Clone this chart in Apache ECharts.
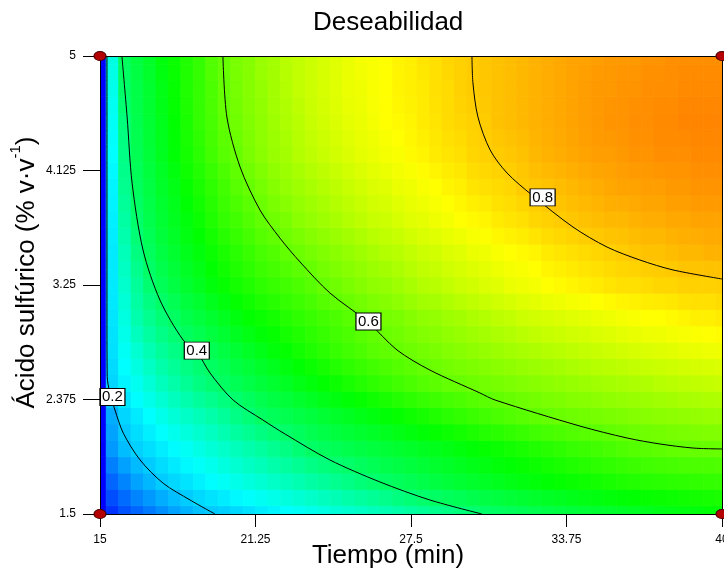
<!DOCTYPE html>
<html>
<head>
<meta charset="utf-8">
<script src="https://cdn.jsdelivr.net/npm/echarts@6/dist/echarts.min.js"></script>
<style>
html,body{margin:0;padding:0;background:#fff;}
#chart{width:724px;height:572px;}
</style>
</head>
<body>
<div id="chart"></div>
<script>
// ---- Data ----
const tiempo = [15,15.5,16,16.5,17,17.5,18,18.5,19,19.5,20,20.5,21,21.5,22,22.5,23,23.5,24,24.5,25,25.5,26,26.5,27,27.5,28,28.5,29,29.5,30,30.5,31,31.5,32,32.5,33,33.5,34,34.5,35,35.5,36,36.5,37,37.5,38,38.5,39,39.5,40];
const acido = [1.5,1.625,1.75,1.875,2,2.125,2.25,2.375,2.5,2.625,2.75,2.875,3,3.125,3.25,3.375,3.5,3.625,3.75,3.875,4,4.125,4.25,4.375,4.5,4.625,4.75,4.875,5];

// desirability, one row per acido value (bottom to top), one column per tiempo value
const d150 = [0,.05,.08,.10,.12,.14,.16,.175,.19,.198,.204,.213,.222,.231,.24,.25,.259,.268,.277,.287,.296,.305,.315,.324,.333,.342,.352,.361,.37,.38,.389,.40,.406,.412,.418,.424,.43,.436,.442,.447,.452,.457,.462,.467,.472,.477,.481,.486,.49,.495,.50];
const d162 = [0,.075,.105,.13,.15,.17,.186,.20,.213,.223,.232,.243,.253,.263,.273,.283,.293,.303,.313,.324,.334,.344,.354,.364,.376,.386,.396,.404,.411,.418,.425,.433,.439,.446,.452,.458,.464,.47,.476,.481,.486,.491,.496,.50,.505,.509,.512,.516,.519,.522,.525];
const d175 = [0,.10,.13,.16,.18,.20,.212,.224,.236,.248,.26,.272,.283,.294,.305,.316,.327,.338,.349,.36,.371,.382,.393,.404,.412,.42,.428,.436,.444,.451,.458,.465,.472,.479,.485,.491,.497,.503,.509,.514,.519,.524,.529,.533,.537,.54,.543,.545,.547,.549,.55];
const d187 = [0,.125,.158,.183,.20,.217,.23,.243,.256,.269,.282,.295,.307,.32,.332,.345,.357,.37,.379,.389,.398,.408,.417,.426,.433,.441,.448,.456,.463,.47,.477,.484,.491,.498,.505,.511,.518,.524,.531,.536,.542,.547,.553,.558,.562,.566,.569,.572,.574,.575,.576];
const d200 = [0,.15,.185,.205,.219,.233,.247,.261,.275,.289,.303,.317,.331,.345,.359,.373,.387,.401,.409,.417,.425,.433,.44,.447,.454,.461,.468,.475,.482,.489,.496,.503,.51,.517,.524,.531,.538,.545,.552,.558,.564,.57,.576,.582,.587,.591,.595,.598,.60,.601,.602];
const d212 = [0,.16,.198,.218,.235,.252,.269,.283,.298,.312,.327,.344,.358,.375,.387,.398,.41,.421,.43,.438,.447,.455,.463,.471,.479,.487,.495,.503,.511,.519,.526,.534,.541,.548,.555,.562,.569,.575,.58,.585,.59,.595,.60,.605,.61,.614,.617,.62,.623,.625,.626];
const d225 = [0,.17,.21,.23,.25,.27,.29,.305,.32,.335,.35,.37,.385,.405,.414,.423,.432,.441,.45,.459,.468,.477,.486,.495,.504,.513,.522,.531,.54,.548,.556,.564,.572,.579,.586,.593,.60,.604,.608,.612,.616,.62,.624,.628,.632,.636,.639,.642,.645,.648,.65];
const d237 = [0,.19,.225,.248,.27,.293,.313,.33,.348,.363,.378,.394,.408,.424,.435,.445,.456,.466,.476,.486,.496,.506,.515,.525,.534,.543,.552,.561,.569,.575,.582,.588,.595,.601,.607,.613,.619,.623,.628,.632,.637,.641,.645,.649,.653,.657,.66,.664,.667,.67,.673];
const d250 = [0,.21,.24,.265,.29,.315,.335,.355,.375,.39,.405,.418,.43,.443,.455,.467,.479,.49,.501,.512,.523,.534,.544,.554,.564,.573,.582,.59,.598,.602,.607,.612,.617,.622,.627,.632,.637,.642,.647,.652,.657,.661,.665,.669,.673,.677,.681,.685,.688,.692,.695];
const d262 = [0,.215,.25,.28,.308,.333,.353,.373,.39,.405,.42,.434,.447,.461,.473,.486,.498,.51,.521,.533,.544,.555,.565,.574,.582,.59,.598,.605,.613,.618,.624,.629,.635,.64,.646,.651,.656,.661,.667,.672,.677,.681,.685,.69,.694,.698,.702,.706,.709,.712,.715];
const d275 = [0,.22,.26,.295,.325,.35,.37,.39,.405,.42,.435,.45,.464,.478,.491,.504,.517,.529,.541,.553,.564,.575,.585,.593,.60,.607,.614,.62,.627,.633,.64,.646,.652,.658,.664,.67,.675,.68,.686,.691,.696,.70,.705,.71,.714,.718,.722,.726,.729,.732,.735];
const d287 = [0,.223,.27,.313,.343,.368,.388,.408,.423,.438,.453,.468,.482,.494,.506,.52,.531,.542,.553,.564,.575,.585,.595,.604,.61,.619,.627,.633,.641,.647,.655,.661,.669,.674,.682,.688,.693,.698,.703,.708,.713,.718,.723,.728,.732,.734,.739,.743,.747,.749,.753];
const d300 = [0,.225,.28,.33,.36,.385,.405,.425,.44,.455,.47,.485,.50,.51,.52,.535,.545,.555,.565,.575,.585,.595,.605,.615,.62,.63,.64,.645,.655,.66,.67,.675,.685,.69,.70,.705,.71,.715,.72,.725,.73,.735,.74,.745,.75,.75,.755,.76,.765,.765,.77];
const d312 = [0,.228,.29,.34,.375,.40,.42,.44,.455,.473,.488,.503,.515,.528,.538,.55,.56,.57,.583,.593,.603,.613,.623,.63,.638,.648,.658,.663,.673,.68,.688,.695,.703,.71,.718,.723,.73,.735,.74,.745,.75,.755,.76,.763,.768,.77,.773,.778,.78,.78,.784];
const d325 = [0,.23,.30,.35,.39,.415,.435,.455,.47,.49,.505,.52,.53,.545,.555,.565,.575,.585,.60,.61,.62,.63,.64,.645,.655,.665,.675,.68,.69,.70,.705,.715,.72,.73,.735,.74,.75,.755,.76,.765,.77,.775,.78,.78,.785,.79,.79,.795,.795,.795,.797];
const d337 = [0,.23,.31,.363,.40,.425,.445,.465,.48,.50,.515,.53,.543,.558,.568,.58,.59,.60,.613,.623,.633,.643,.653,.66,.668,.678,.688,.693,.703,.71,.718,.725,.733,.74,.745,.75,.76,.765,.77,.775,.78,.785,.79,.793,.798,.80,.803,.808,.808,.81,.811];
const d350 = [0,.23,.32,.375,.41,.435,.455,.475,.49,.51,.525,.54,.555,.57,.58,.595,.605,.615,.625,.635,.645,.655,.665,.675,.68,.69,.70,.705,.715,.72,.73,.735,.745,.75,.755,.76,.77,.775,.78,.785,.79,.795,.80,.805,.81,.81,.815,.82,.82,.825,.825];
const d362 = [0,.233,.33,.385,.418,.443,.463,.483,.50,.52,.538,.553,.568,.583,.595,.608,.62,.63,.64,.65,.66,.67,.68,.688,.695,.705,.713,.72,.728,.735,.743,.748,.758,.763,.768,.775,.783,.788,.793,.798,.803,.808,.81,.815,.82,.82,.825,.828,.83,.833,.833];
const d375 = [0,.235,.34,.395,.425,.45,.47,.49,.51,.53,.55,.565,.58,.595,.61,.62,.635,.645,.655,.665,.675,.685,.695,.70,.71,.72,.725,.735,.74,.75,.755,.76,.77,.775,.78,.79,.795,.80,.805,.81,.815,.82,.82,.825,.83,.83,.835,.835,.84,.84,.84];
const d387 = [0,.238,.35,.403,.43,.455,.475,.498,.518,.538,.558,.575,.59,.605,.62,.633,.645,.655,.665,.675,.685,.695,.705,.71,.72,.728,.735,.743,.75,.758,.765,.77,.778,.783,.79,.798,.803,.808,.813,.818,.823,.828,.83,.833,.838,.838,.843,.843,.848,.848,.848];
const d400 = [0,.24,.36,.41,.435,.46,.48,.505,.525,.545,.565,.585,.60,.615,.63,.645,.655,.665,.675,.685,.695,.705,.715,.72,.73,.735,.745,.75,.76,.765,.775,.78,.785,.79,.80,.805,.81,.815,.82,.825,.83,.835,.84,.84,.845,.845,.85,.85,.855,.855,.855];
const d412 = [0,.245,.365,.415,.44,.465,.488,.513,.533,.555,.575,.593,.61,.625,.64,.653,.665,.675,.685,.695,.705,.715,.723,.73,.738,.745,.753,.76,.768,.773,.783,.788,.793,.798,.805,.813,.818,.823,.828,.833,.838,.84,.845,.848,.85,.853,.855,.855,.86,.86,.86];
const d425 = [0,.25,.37,.42,.445,.47,.495,.52,.54,.565,.585,.60,.62,.635,.65,.66,.675,.685,.695,.705,.715,.725,.73,.74,.745,.755,.76,.77,.775,.78,.79,.795,.80,.805,.81,.82,.825,.83,.835,.84,.845,.845,.85,.855,.855,.86,.86,.86,.865,.865,.865];
const d437 = [0,.255,.375,.423,.448,.473,.498,.523,.545,.568,.59,.605,.623,.638,.653,.665,.678,.69,.70,.71,.72,.728,.735,.745,.75,.758,.765,.773,.78,.785,.793,.798,.805,.81,.815,.823,.828,.833,.838,.843,.848,.85,.853,.858,.858,.863,.863,.865,.868,.868,.868];
const d450 = [0,.26,.38,.425,.45,.475,.50,.525,.55,.57,.595,.61,.625,.64,.655,.67,.68,.695,.705,.715,.725,.73,.74,.75,.755,.76,.77,.775,.785,.79,.795,.80,.81,.815,.82,.825,.83,.835,.84,.845,.85,.855,.855,.86,.86,.865,.865,.87,.87,.87,.87];
const d462 = [0,.265,.39,.428,.453,.478,.503,.528,.55,.573,.598,.613,.628,.643,.658,.673,.685,.698,.708,.718,.728,.733,.743,.75,.758,.763,.77,.778,.785,.793,.798,.803,.81,.815,.82,.825,.83,.835,.84,.845,.85,.853,.855,.858,.86,.863,.863,.868,.868,.868,.868];
const d475 = [0,.27,.40,.43,.455,.48,.505,.53,.55,.575,.60,.615,.63,.645,.66,.675,.69,.70,.71,.72,.73,.735,.745,.75,.76,.765,.77,.78,.785,.795,.80,.805,.81,.815,.82,.825,.83,.835,.84,.845,.85,.85,.855,.855,.86,.86,.86,.865,.865,.865,.865];
const d487 = [0,.275,.405,.435,.458,.485,.508,.53,.55,.578,.60,.618,.63,.648,.66,.678,.69,.70,.71,.72,.73,.738,.745,.75,.76,.765,.773,.78,.788,.795,.80,.805,.81,.815,.82,.825,.83,.835,.84,.843,.848,.85,.853,.853,.858,.858,.86,.863,.863,.863,.863];
const d500 = [0,.28,.41,.44,.46,.49,.51,.53,.55,.58,.60,.62,.63,.65,.66,.68,.69,.70,.71,.72,.73,.74,.745,.75,.76,.765,.775,.78,.79,.795,.80,.805,.81,.815,.82,.825,.83,.835,.84,.84,.845,.85,.85,.85,.855,.855,.86,.86,.86,.86,.86];
const deseabilidad = [d150,d162,d175,d187,d200,d212,d225,d237,d250,d262,d275,d287,d300,d312,d325,d337,d350,d362,d375,d387,d400,d412,d425,d437,d450,d462,d475,d487,d500];

// contour lines [tiempo, acido]
const contour02 = [[15.28,5],[15.28,4],[15.28,3],[15.29,2.55],[15.40,2.425],[15.60,2.295],[15.94,2.117],[16.61,1.913],[17.54,1.735],[18.62,1.607],[19.62,1.5]];
const contour04 = [[15.88,5],[16.09,4.534],[16.29,4.029],[16.73,3.517],[17.41,3.135],[18.34,2.83],[18.90,2.738],[19.42,2.578],[20.35,2.371],[21.55,2.218],[22.44,2.111],[24.24,1.913],[26.25,1.745],[28.26,1.607],[30.35,1.5]];
const contour06 = [[19.94,5],[20.10,4.534],[20.63,4.152],[21.43,3.823],[22.23,3.609],[23.04,3.426],[24.24,3.189],[25.77,2.967],[26.94,2.753],[28.26,2.60],[30.27,2.425],[30.88,2.371],[34.29,2.172],[36.18,2.081],[37.51,2.035],[38.84,2.004],[40,1.997]];
const contour08 = [[29.95,5],[29.99,4.794],[30.19,4.534],[30.68,4.282],[31.36,4.106],[32.36,3.938],[34.01,3.693],[35.38,3.54],[36.70,3.441],[38.03,3.365],[40,3.296]];

const labelText = ['0.2','0.4','0.6','0.8'];
const labelT = [15.50,18.89,25.79,32.79];
const labelA = [2.394,2.749,2.971,3.919];

const designT = [15,40,15,40];
const designA = [1.5,1.5,5,5];

const xTicks = [15,21.25,27.5,33.75,40];
const yTicks = [1.5,2.375,3.25,4.125,5];

// ---- build cells ----
function edges(c, lo, hi){
  const e = [];
  for (let i = 0; i < c.length; i++){
    e.push([i === 0 ? lo : (c[i-1]+c[i])/2, i === c.length-1 ? hi : (c[i]+c[i+1])/2]);
  }
  return e;
}
const xe = edges(tiempo, 15, 40);
const ye = edges(acido, 1.5, 5);
const cells = [];
for (let j = 0; j < acido.length; j++){
  for (let i = 0; i < tiempo.length; i++){
    cells.push([xe[i][0], xe[i][1], ye[j][0], ye[j][1], deseabilidad[j][i]]);
  }
}

const FONT = "'Liberation Sans', Arial, sans-serif";
const chart = echarts.init(document.getElementById('chart'), null, {renderer:'canvas'});

function contourSeries(data){
  return {type:'line', data:data, smooth:0.3, showSymbol:false, symbol:'none', clip:true,
    lineStyle:{color:'#000', width:1}, z:5, silent:true};
}

chart.setOption({
  animation:false,
  backgroundColor:'#fff',
  title:{text:'Deseabilidad', left:308, top:5,
    textStyle:{fontSize:26, fontWeight:'normal', color:'#000', fontFamily:FONT}},
  grid:{left:100, right:2, top:56, bottom:58, containLabel:false, outerBoundsMode:'none'},
  visualMap:{type:'continuous', show:false, min:0, max:1, dimension:4, seriesIndex:0,
    inRange:{color:['#0000ff','#00ffff','#00ff00','#ffff00','#ff0000']}},
  xAxis:[{
    type:'value', min:15, max:40, z:10,
    name:'Tiempo (min)', nameLocation:'middle', nameGap:29, nameMoveOverlap:false,
    nameTextStyle:{fontSize:26, color:'#000', fontFamily:FONT, padding:[0,46,0,0]},
    axisLine:{show:true, onZero:false, lineStyle:{color:'#000', width:1}},
    axisTick:{show:true, length:13, customValues:xTicks, lineStyle:{color:'#000'}},
    axisLabel:{show:true, customValues:xTicks, margin:20, color:'#000', fontSize:12, fontFamily:FONT},
    splitLine:{show:false}
  },{
    type:'value', min:15, max:40, position:'top', z:10,
    axisLine:{show:true, onZero:false, lineStyle:{color:'#000', width:1}},
    axisTick:{show:false}, axisLabel:{show:false}, splitLine:{show:false}
  }],
  yAxis:[{
    type:'value', min:1.5, max:5, z:10,
    name:'{a|Ácido sulfúrico (% v·v}{s|-1}{a|)}', nameLocation:'middle', nameGap:60, nameMoveOverlap:false,
    nameTextStyle:{fontSize:26, color:'#000', fontFamily:FONT, padding:[0,0,0,25],
      rich:{
        a:{fontSize:26, color:'#000', fontFamily:FONT, padding:[6,0,0,0], verticalAlign:'bottom'},
        s:{fontSize:15, color:'#000', fontFamily:FONT, verticalAlign:'top'}
      }},
    axisLine:{show:true, onZero:false, lineStyle:{color:'#000', width:1}},
    axisTick:{show:true, length:17, customValues:yTicks, lineStyle:{color:'#000'}},
    axisLabel:{show:true, customValues:yTicks, margin:24, color:'#000', fontSize:12, fontFamily:FONT},
    splitLine:{show:false}
  },{
    type:'value', min:1.5, max:5, position:'right', z:10,
    axisLine:{show:true, onZero:false, lineStyle:{color:'#000', width:1}},
    axisTick:{show:false}, axisLabel:{show:false}, splitLine:{show:false}
  }],
  series:[
    {
      type:'custom', data:cells, clip:true, silent:true, z:1,
      encode:{x:[0,1], y:[2,3]},
      renderItem:function(params, api){
        const p0 = api.coord([api.value(0), api.value(3)]);
        const p1 = api.coord([api.value(1), api.value(2)]);
        const c = api.visual('color');
        return {type:'rect',
          shape:{x:p0[0], y:p0[1], width:p1[0]-p0[0], height:p1[1]-p0[1]},
          style:{fill:c, stroke:c, lineWidth:0.8}};
      }
    },
    contourSeries(contour02),
    contourSeries(contour04),
    contourSeries(contour06),
    contourSeries(contour08),
    {
      type:'scatter', z:8, silent:true, clip:false,
      symbol:'rect', symbolSize:[25,17],
      itemStyle:{color:'#fff', borderColor:'#000', borderWidth:1, opacity:1},
      label:{show:true, position:'inside', color:'#000', fontSize:15, fontFamily:FONT,
        formatter:function(p){ return labelText[p.dataIndex]; }},
      data:labelT.map(function(t,i){ return [t, labelA[i]]; })
    },
    {
      type:'scatter', z:12, silent:true, clip:false,
      symbol:'circle', symbolSize:[12,9],
      itemStyle:{color:'#b40000', borderColor:'#4a0000', borderWidth:1, opacity:1},
      data:designT.map(function(t,i){ return [t, designA[i]]; })
    }
  ]
});
</script>
</body>
</html>
